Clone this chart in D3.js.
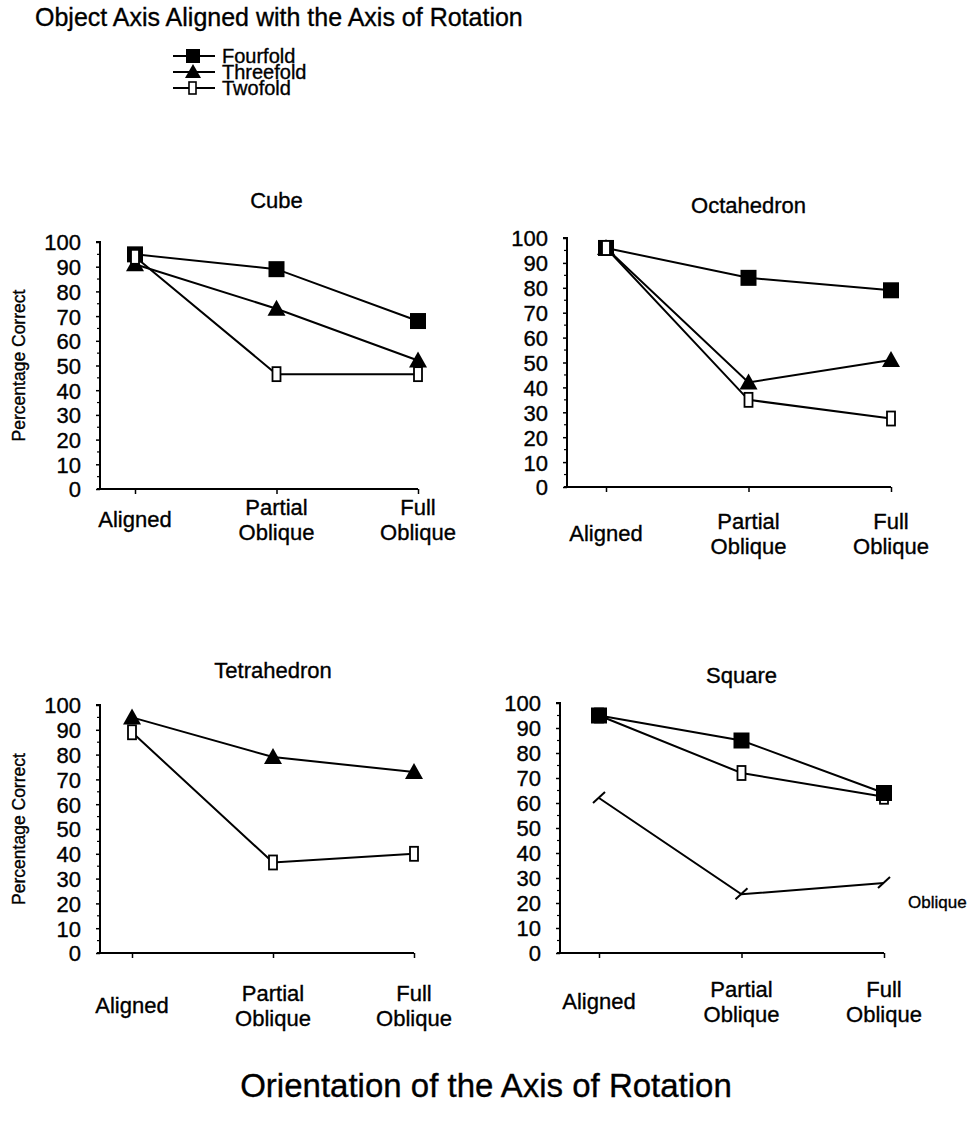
<!DOCTYPE html>
<html><head><meta charset="utf-8">
<script src="https://cdn.jsdelivr.net/npm/d3@7"></script>
<style>
body{margin:0;background:#fff;}
svg text{font-family:"Liberation Sans",Arial,Helvetica,sans-serif;fill:#000;stroke:#000;stroke-width:0.35px;}
</style></head>
<body><svg id="c" width="972" height="1128"></svg>
<script>
const categories = ["Aligned", "Partial Oblique", "Full Oblique"];
const yTicks = [0,10,20,30,40,50,60,70,80,90,100];
const seriesNames = ["Fourfold", "Threefold", "Twofold"];

const cubeFourfold = [95, 89, 68];
const cubeThreefold = [91, 73, 52];
const cubeTwofold = [94, 46.5, 46.5];

const octFourfold = [96, 84, 79];
const octThreefold = [96, 42, 51];
const octTwofold = [96, 35, 27.5];

const tetThreefold = [95, 79, 73];
const tetTwofold = [89, 36.5, 40];

const sqFourfold = [95, 85, 64];
const sqTwofold = [95, 72, 62.5];
const sqOblique = [62, 23.5, 28];

const svg = d3.select("#c");
const FONT = 22;

svg.append("text").attr("x", 35).attr("y", 26).attr("font-size", 25)
  .text("Object Axis Aligned with the Axis of Rotation");

function marker(g, type, x, y) {
  if (type === "Fourfold") {
    g.append("rect").attr("x", x-8).attr("y", y-8).attr("width", 16).attr("height", 16).attr("fill", "#000");
  } else if (type === "Threefold") {
    g.append("path").attr("d", `M${x},${y-9}L${x+9},${y+7}L${x-9},${y+7}Z`).attr("fill", "#000");
  } else if (type === "Twofold") {
    g.append("rect").attr("x", x-4).attr("y", y-7).attr("width", 8).attr("height", 14)
      .attr("fill", "#fff").attr("stroke", "#000").attr("stroke-width", 1.8);
  } else if (type === "Oblique") {
    g.append("path").attr("d", `M${x-6},${y+5}L${x+6},${y-6}`).attr("stroke", "#000").attr("stroke-width", 2).attr("fill", "none");
  }
}

// legend
const legY = [56, 72, 88];
seriesNames.forEach((s, i) => {
  const lg = svg.append("g");
  lg.append("line").attr("x1", 173).attr("x2", 215).attr("y1", legY[i]).attr("y2", legY[i])
    .attr("stroke", "#000").attr("stroke-width", 2);
  if (s === "Fourfold") {
    lg.append("rect").attr("x", 186).attr("y", legY[i]-7).attr("width", 14).attr("height", 14).attr("fill", "#000");
  } else if (s === "Threefold") {
    lg.append("path").attr("d", `M193,${legY[i]-8}L201,${legY[i]+6}L185,${legY[i]+6}Z`).attr("fill", "#000");
  } else {
    lg.append("rect").attr("x", 189).attr("y", legY[i]-6).attr("width", 7).attr("height", 12)
      .attr("fill", "#fff").attr("stroke", "#000").attr("stroke-width", 1.6);
  }
  lg.append("text").attr("x", 222).attr("y", legY[i]+7).attr("font-size", 20).text(s);
});

const panels = [
  {title: "Cube", x0: 100, yTop: 242, yBot: 489, cx: [135, 418], titleY: 208, labOff: 18, ylab: true,
   series: [["Fourfold", cubeFourfold], ["Threefold", cubeThreefold], ["Twofold", cubeTwofold]]},
  {title: "Octahedron", x0: 567, yTop: 238, yBot: 487, cx: [606, 891], titleY: 213, labOff: 34, ylab: false,
   series: [["Fourfold", octFourfold], ["Threefold", octThreefold], ["Twofold", octTwofold]]},
  {title: "Tetrahedron", x0: 100, yTop: 705, yBot: 953, cx: [132, 414], titleY: 678, labOff: 40, ylab: true,
   series: [["Threefold", tetThreefold], ["Twofold", tetTwofold]]},
  {title: "Square", x0: 560, yTop: 703, yBot: 953, cx: [599, 884], titleY: 683, labOff: 36, ylab: false,
   series: [["Oblique", sqOblique], ["Twofold", sqTwofold], ["Fourfold", sqFourfold]]}
];

panels.forEach(p => {
  const g = svg.append("g");
  const x = d3.scalePoint().domain(categories).range(p.cx).padding(0);
  const y = d3.scaleLinear().domain([0, 100]).range([p.yBot, p.yTop]);

  g.append("text").attr("x", x(categories[1])).attr("y", p.titleY)
    .attr("text-anchor", "middle").attr("font-size", FONT).text(p.title);

  const ya = g.append("g").attr("transform", `translate(${p.x0},0)`)
    .call(d3.axisLeft(y).tickValues(yTicks).tickSize(4).tickPadding(15).tickFormat(d3.format("d")));
  ya.select(".domain").attr("stroke-width", 2).attr("d", `M-4,${y(100)}H0V${y(0)}`);
  ya.selectAll(".tick line").attr("stroke-width", 1.5);
  ya.attr("font-size", null).attr("font-family", null);
  ya.selectAll("text").attr("font-size", FONT).attr("dy", "0.36em");
  const minor = d3.range(5, 100, 10);
  g.selectAll(".mt").data(minor).enter().append("line")
    .attr("x1", p.x0 - 3).attr("x2", p.x0).attr("y1", d => y(d)).attr("y2", d => y(d))
    .attr("stroke", "#000").attr("stroke-width", 1.2);

  const xa = g.append("g").attr("transform", `translate(0,${p.yBot})`)
    .call(d3.axisBottom(x).tickSize(5).tickFormat(""));
  xa.select(".domain").attr("stroke-width", 2).attr("d", `M${p.x0 - 3},0H${p.cx[1]}`);
  xa.selectAll(".tick line").attr("stroke-width", 1.5);

  categories.forEach(c => {
    const parts = c.split(" ");
    const t = g.append("text").attr("text-anchor", "middle").attr("font-size", FONT)
      .attr("x", x(c)).attr("y", p.yBot + p.labOff + 8);
    if (parts.length === 1) {
      t.attr("y", p.yBot + p.labOff + 20).text(c);
    } else {
      t.append("tspan").attr("x", x(c)).attr("dy", 0).text(parts[0]);
      t.append("tspan").attr("x", x(c)).attr("dy", 25).text(parts[1]);
    }
  });

  if (p.ylab) {
    g.append("text").attr("transform", `translate(25,${(p.yTop + p.yBot) / 2}) rotate(-90)`)
      .attr("text-anchor", "middle").attr("font-size", 17.5).text("Percentage Correct");
  }

  const line = d3.line().x((d, i) => x(categories[i])).y(d => y(d));
  p.series.forEach(([name, vals]) => {
    g.append("path").attr("d", line(vals)).attr("fill", "none").attr("stroke", "#000").attr("stroke-width", 2);
  });
  p.series.forEach(([name, vals]) => {
    vals.forEach((v, i) => marker(g, name, x(categories[i]), y(v)));
  });

  if (p.title === "Square") {
    g.append("text").attr("x", 908).attr("y", 908).attr("font-size", 17).text("Oblique");
  }
});

svg.append("text").attr("x", 486).attr("y", 1097).attr("text-anchor", "middle").attr("font-size", 33)
  .text("Orientation of the Axis of Rotation");
</script></body></html>
